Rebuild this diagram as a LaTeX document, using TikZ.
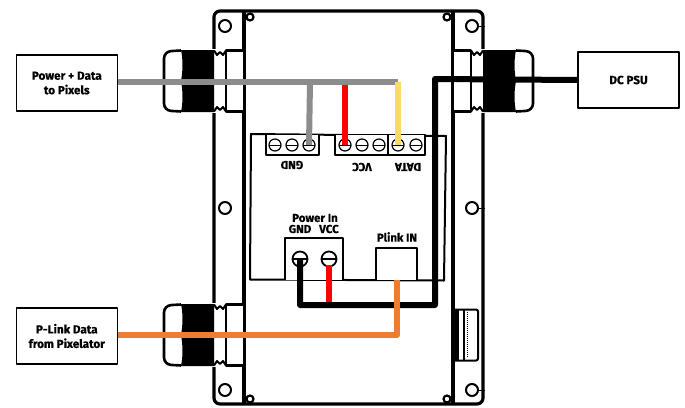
\documentclass[tikz,border=0pt]{standalone}
\usepackage{fontspec}
\setmainfont[BoldFeatures={FakeBold=0.6}]{Fira Sans}
\begin{document}
\begin{tikzpicture}[x=1pt,y=-1pt,
  line join=round,
  encl/.style={draw=black,line width=3.2pt},
  module/.style={draw=black,line width=2pt},
  labelbox/.style={draw=black,line width=1.6pt,fill=white,minimum width=101pt,minimum height=56pt,inner sep=0pt,align=center,font=\fontsize{11.7}{14.5}\selectfont\bfseries},
  txt/.style={inner sep=0pt,align=center,font=\fontsize{11.5}{13}\selectfont\bfseries},
  term/.style={draw=black,line width=1.1pt,fill=white},
  wire/.style={line width=6pt},
  gray wire/.style={wire,draw=wgray},
  red wire/.style={wire,draw=red},
  yellow wire/.style={wire,draw=wyellow},
  black wire/.style={wire,draw=black,line join=round},
  orange wire/.style={wire,draw=worange},
  hole/.style={circle,draw=black,line width=2pt,minimum size=12pt,inner sep=0pt},
  smallhole/.style={circle,draw=black,line width=2.2pt,minimum size=7pt,inner sep=0pt,fill=white},
  screw/.style={circle,draw=black,line width=1.2pt,fill=white,minimum size=12pt,inner sep=0pt},
  bigscrew/.style={circle,draw=black,line width=1.8pt,fill=white,minimum size=15pt,inner sep=0pt}]
\definecolor{wgray}{RGB}{140,140,140}
\definecolor{wyellow}{RGB}{255,217,102}
\definecolor{worange}{RGB}{237,125,49}
\useasboundingbox (0,0) rectangle (685,407);
\fill[white] (0,0) rectangle (685,407);

% enclosure
\draw[encl,rounded corners=6pt] (214,11) rectangle (483,404);
\draw[encl,line width=3.6pt] (244,11) -- (244,404);
\draw[encl,line width=3.6pt] (453,11) -- (453,404);
\foreach \n/\x/\y in {ha/225/26,hb/225/208,hc/225/390,hd/472/26,he/472/208,hf/472/390}
  \node[hole] (\n) at (\x,\y) {};
\foreach \y in {26,208,390} \draw[black,line width=1pt] (478,\y) -- (485,\y);
\foreach \n/\x/\y in {sa/250,sb/447}{
  \node[smallhole] (\n t) at (\x,17) {};
  \node[smallhole] (\n b) at (\x,399) {};}

% cable glands: local x runs outward from the enclosure wall, local y from the gland top
\tikzset{pics/gland/.style={code={
  \fill[white] (-30,-1) rectangle (50,63);
  \fill[black] (0,0) -- (33,0) .. controls (31,10) and (31,20) .. (33,31)
     .. controls (31,42) and (31,52) .. (33,62) -- (0,62) -- cycle;
  \draw[encl,line width=2.6pt,rounded corners=7pt] (33,0.5) -- (50,1.5) -- (50,60.5) -- (33,61.5);
  \draw[encl,line width=2.4pt] (-30,0.5) -- (-12,0.5) -- (-12,61.5) -- (-30,61.5);
  \draw[encl,line width=2pt] (0,0.5) -- (-3,5) -- (-6,2) -- (-9,5) -- (-12,0.5);
  \draw[encl,line width=2pt] (0,61.5) -- (-3,57) -- (-6,60) -- (-9,57) -- (-12,61.5);
  \draw[encl,line width=2.6pt] (-30,-1) -- (-30,63);
}}}
\pic[xscale=-1] at (214,50) {gland};
\pic[xscale=-1] at (214,304) {gland};
\pic at (483,50) {gland};

% USB-like connector
\draw[black,line width=2pt,rounded corners=2pt] (455,309.5) -- (478,309.5) -- (478,360.5) -- (455,360.5);
\fill[black] (454,309) rectangle (458.5,361);
\draw[black,line width=1.6pt] (464,310) -- (464,360);
\draw[black,line width=1pt,densely dotted] (467,312) -- (467,358);

% control module
\draw[module] (251,134) -- (446,136) -- (444,280.5) -- (250,279.5) -- cycle;
\draw[term] (266,134.5) rectangle (319,155);
\draw[term] (335,134.5) rectangle (388,155);
\draw[term] (388,134.5) rectangle (425,155);
\foreach \n/\x in {s1/275,s2/292,s3/309,s4/345,s5/362,s6/379,s7/398,s8/416}{
  \node[screw] (\n) at (\x,145) {};
  \draw[black,line width=1pt] (\x-6,145) -- (\x+6,145);}
\node[txt,rotate=180] at (292,165) {GND};
\node[txt,rotate=180] at (362,167) {VCC};
\node[txt,rotate=180] at (408,167) {DATA};
\node[txt] at (315,218) {Power In};
\node[txt] at (300,229) {GND};
\node[txt] at (329,229) {VCC};
\node[txt] at (397,237) {Plink IN};
\draw[module,fill=white] (285,280) -- (285,237.5) -- (342.5,237.5) -- (342.5,280);
\draw[module,fill=white] (376,280) -- (376,247.5) -- (417,247.5) -- (417,280);
\foreach \n/\x in {pg/300,pv/329}{
  \node[bigscrew] (\n) at (\x,259) {};
  \draw[black,line width=1.4pt] (\x-7,259) -- (\x+7,259);}
\coordinate (plink) at (397,280);

% boxes
\node[labelbox] (pixels) at (66.8,83) {Power + Data\\to Pixels};
\node[labelbox] (psu) at (628.5,80) {DC PSU};
\node[labelbox] (pix) at (66.8,336) {P-Link Data\\from Pixelator};

% junctions
\coordinate (gj) at (310,82);
\coordinate (rj) at (345,85);
\coordinate (yj) at (398,82);
\coordinate (bj) at (435,79);
\coordinate (bk) at (435,305);
\coordinate (bl) at (300,305);
\coordinate (rb) at (329,305);
\coordinate (oj) at (397,335);

% wires
\draw[gray wire] (pixels.east |- yj) -- (yj);
\draw[gray wire] (gj) -- (s3.center);
\draw[yellow wire] (yj) -- (s7.center);
\draw[red wire] (rj) -- (s4.center);
\draw[red wire] (pv.center) ++(0,6) -- (rb);
\draw[black wire] (psu.west) -- (bj) -- (bk) -- (bl) -- (pg.center);
\draw[orange wire] (pix.east |- oj) -- (oj) -- (plink);
\end{tikzpicture}
\end{document}
